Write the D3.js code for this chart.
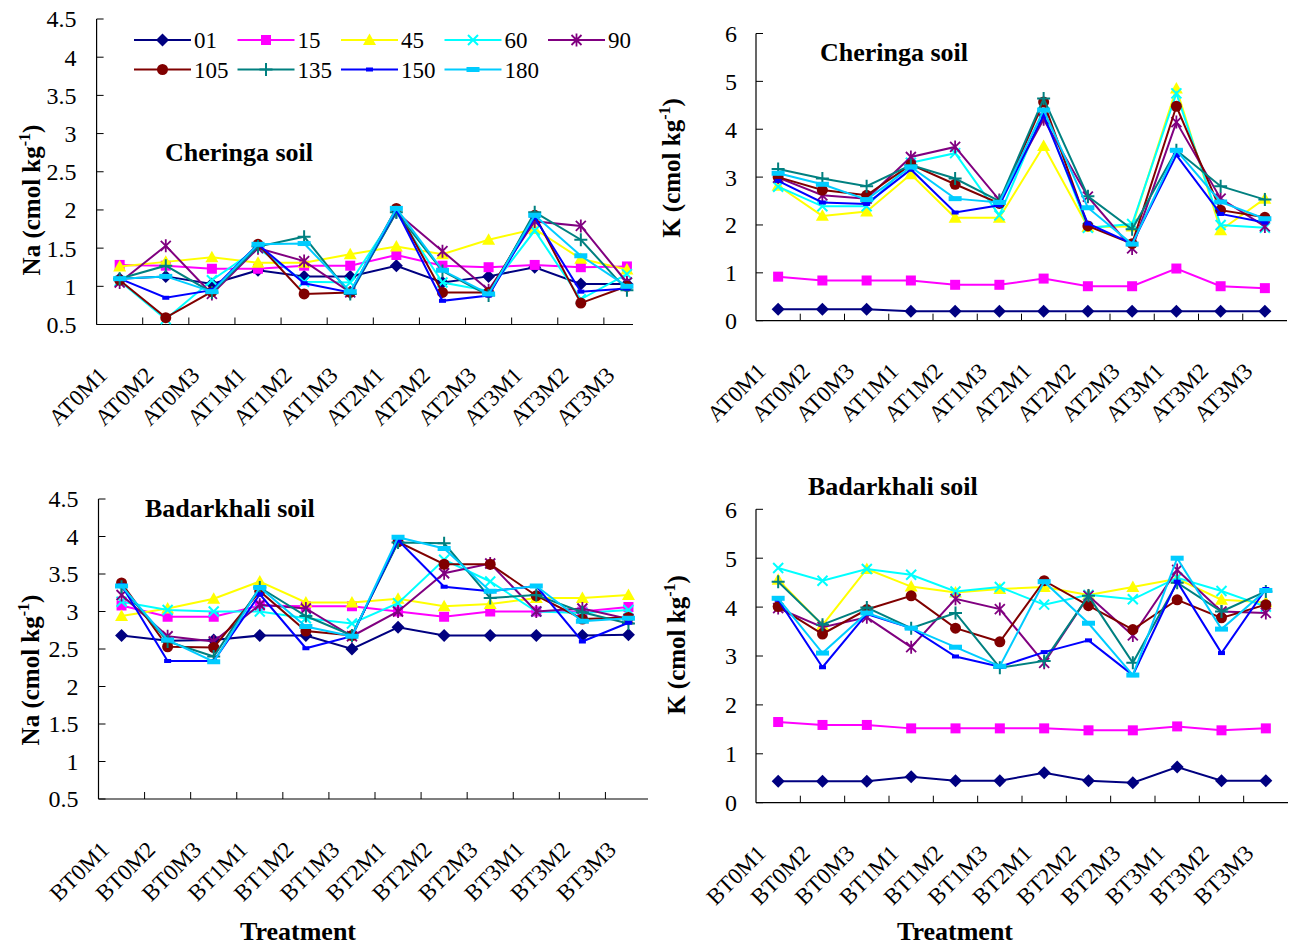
<!DOCTYPE html>
<html>
<head>
<meta charset="utf-8">
<script src="https://cdn.jsdelivr.net/npm/d3@7"></script>
<style>
  html, body { margin: 0; padding: 0; background: #fff; }
  svg { display: block; }
  text { font-family: "Liberation Serif", "Times New Roman", serif; fill: #000; }
</style>
</head>
<body>
<svg id="chart" width="1297" height="947"></svg>
<script>
// Treatment categories for the two soils
const cheringaTreatments = ["AT0M1","AT0M2","AT0M3","AT1M1","AT1M2","AT1M3","AT2M1","AT2M2","AT2M3","AT3M1","AT3M2","AT3M3"];
const badarkhaliTreatments = ["BT0M1","BT0M2","BT0M3","BT1M1","BT1M2","BT1M3","BT2M1","BT2M2","BT2M3","BT3M1","BT3M2","BT3M3"];

// Incubation days (one line per day)
const dayLabels = ["01","15","45","60","90","105","135","150","180"];

// Axis tick values
const naTicks = [0.5, 1, 1.5, 2, 2.5, 3, 3.5, 4, 4.5];
const kTicks = [0, 1, 2, 3, 4, 5, 6];

// Na (cmol kg-1), Cheringa soil — rows follow dayLabels
const naCheringa = [
  [1.10, 1.13, 1.03, 1.21, 1.13, 1.13, 1.27, 1.05, 1.13, 1.25, 1.03, 1.03],
  [1.28, 1.27, 1.23, 1.23, 1.27, 1.27, 1.41, 1.27, 1.25, 1.28, 1.25, 1.26],
  [1.26, 1.32, 1.38, 1.31, 1.31, 1.42, 1.52, 1.42, 1.61, 1.75, 1.36, 1.22],
  [1.07, 0.57, 1.08, 1.50, 1.06, 1.05, 1.97, 1.05, 0.94, 1.73, 0.83, 1.16],
  [1.05, 1.53, 0.90, 1.50, 1.33, 0.92, 1.97, 1.46, 0.95, 1.85, 1.79, 1.05],
  [1.08, 0.59, 0.93, 1.55, 0.90, 0.92, 2.02, 0.92, 0.92, 1.93, 0.78, 1.00],
  [1.10, 1.27, 0.92, 1.52, 1.65, 0.90, 1.97, 1.20, 0.88, 1.97, 1.61, 0.95],
  [1.10, 0.85, 0.95, 1.55, 1.04, 0.92, 2.00, 0.81, 0.88, 1.90, 0.93, 0.97],
  [1.10, 1.13, 0.93, 1.55, 1.56, 0.93, 2.02, 1.21, 0.90, 1.93, 1.40, 1.00]
];

// K (cmol kg-1), Cheringa soil
const kCheringa = [
  [0.24, 0.24, 0.24, 0.20, 0.20, 0.20, 0.20, 0.20, 0.20, 0.20, 0.20, 0.20],
  [0.92, 0.84, 0.84, 0.84, 0.75, 0.75, 0.88, 0.72, 0.72, 1.09, 0.72, 0.68],
  [2.82, 2.19, 2.28, 3.06, 2.15, 2.15, 3.65, 1.96, 1.97, 4.85, 1.89, 2.55],
  [2.80, 2.39, 2.39, 3.30, 3.50, 2.20, 4.36, 1.94, 2.02, 4.75, 2.00, 1.94],
  [2.99, 2.62, 2.55, 3.42, 3.63, 2.52, 4.21, 2.59, 1.51, 4.15, 2.55, 1.97],
  [3.00, 2.73, 2.62, 3.26, 2.85, 2.45, 4.57, 1.98, 1.61, 4.48, 2.31, 2.16],
  [3.17, 2.97, 2.81, 3.25, 2.97, 2.50, 4.64, 2.60, 1.91, 3.56, 2.81, 2.53],
  [2.92, 2.47, 2.44, 3.16, 2.26, 2.41, 4.29, 2.03, 1.61, 3.46, 2.23, 2.05],
  [3.08, 2.85, 2.53, 3.21, 2.55, 2.47, 4.40, 2.36, 1.60, 3.56, 2.48, 2.13]
];

// Na (cmol kg-1), Badarkhali soil
const naBadarkhali = [
  [2.68, 2.61, 2.62, 2.68, 2.68, 2.50, 2.79, 2.68, 2.68, 2.68, 2.68, 2.69],
  [3.08, 2.93, 2.93, 3.08, 3.07, 3.07, 3.00, 2.93, 3.00, 3.00, 3.00, 3.06],
  [2.94, 3.04, 3.17, 3.40, 3.12, 3.12, 3.17, 3.07, 3.10, 3.18, 3.18, 3.22],
  [3.13, 3.02, 3.00, 3.00, 2.91, 2.84, 3.11, 3.69, 3.40, 3.00, 2.98, 3.02],
  [3.22, 2.67, 2.60, 3.09, 3.04, 2.67, 3.00, 3.51, 3.64, 3.00, 3.04, 2.90],
  [3.38, 2.53, 2.52, 3.27, 2.74, 2.68, 3.93, 3.63, 3.63, 3.21, 2.90, 2.92],
  [3.33, 2.60, 2.40, 3.32, 2.94, 2.68, 3.92, 3.91, 3.18, 3.22, 2.99, 2.84],
  [3.35, 2.34, 2.34, 3.23, 2.51, 2.67, 3.95, 3.33, 3.27, 3.34, 2.60, 2.85],
  [3.34, 2.62, 2.33, 3.32, 2.80, 2.67, 3.99, 3.84, 3.27, 3.34, 2.87, 2.91]
];

// K (cmol kg-1), Badarkhali soil
const kBadarkhali = [
  [0.44, 0.44, 0.44, 0.53, 0.45, 0.45, 0.61, 0.45, 0.41, 0.73, 0.45, 0.45],
  [1.65, 1.59, 1.59, 1.52, 1.52, 1.52, 1.52, 1.48, 1.48, 1.56, 1.48, 1.52],
  [4.56, 3.63, 4.78, 4.42, 4.30, 4.37, 4.41, 4.25, 4.41, 4.58, 4.15, 4.10],
  [4.80, 4.54, 4.78, 4.66, 4.32, 4.41, 4.05, 4.25, 4.16, 4.60, 4.33, 4.01],
  [3.98, 3.59, 3.79, 3.18, 4.17, 3.96, 2.86, 4.23, 3.42, 4.76, 3.91, 3.88],
  [4.01, 3.45, 3.95, 4.23, 3.57, 3.29, 4.54, 4.03, 3.54, 4.15, 3.78, 4.05],
  [4.52, 3.64, 3.99, 3.57, 3.88, 2.76, 2.90, 4.23, 2.86, 4.50, 3.91, 4.32],
  [4.15, 2.77, 3.86, 3.57, 2.99, 2.78, 3.08, 3.32, 2.61, 4.52, 3.06, 4.37],
  [4.18, 3.06, 3.88, 3.57, 3.18, 2.79, 4.52, 3.67, 2.61, 5.00, 3.55, 4.34]
];

// Line colours and marker shapes, one per day
const dayColors = ["#000080", "#FF00FF", "#FFFF00", "#00FFFF", "#800080", "#800000", "#008080", "#0000FF", "#00CCFF"];
const dayMarkers = ["diamond", "square", "triangle", "x", "star", "circle", "plus", "shortDash", "longDash"];

const svg = d3.select("#chart");

function drawMarker(g, shape, color) {
  switch (shape) {
    case "diamond":
      g.append("path").attr("d", "M0,-6.5L6.5,0L0,6.5L-6.5,0Z").attr("fill", color);
      break;
    case "square":
      g.append("rect").attr("x", -5).attr("y", -5).attr("width", 10).attr("height", 10).attr("fill", color);
      break;
    case "triangle":
      g.append("path").attr("d", "M0,-6.5L6.5,5L-6.5,5Z").attr("fill", color);
      break;
    case "x":
      g.append("path").attr("d", "M-5,-5L5,5M-5,5L5,-5").attr("stroke", color).attr("stroke-width", 2).attr("fill", "none");
      break;
    case "star":
      g.append("path").attr("d", "M-5,-5L5,5M-5,5L5,-5M0,-6.5L0,6.5").attr("stroke", color).attr("stroke-width", 1.8).attr("fill", "none");
      break;
    case "circle":
      g.append("circle").attr("r", 5.5).attr("fill", color);
      break;
    case "plus":
      g.append("path").attr("d", "M-6.5,0L6.5,0M0,-6.5L0,6.5").attr("stroke", color).attr("stroke-width", 2).attr("fill", "none");
      break;
    case "shortDash":
      g.append("rect").attr("x", -3.5).attr("y", -2).attr("width", 7).attr("height", 4).attr("fill", color);
      break;
    case "longDash":
      g.append("rect").attr("x", -6.5).attr("y", -2.5).attr("width", 13).attr("height", 5).attr("fill", color);
      break;
  }
}

function drawPanel(cfg) {
  const x = d3.scaleBand().domain(cfg.categories).range([cfg.x0, cfg.x1]);
  const y = d3.scaleLinear().domain(cfg.yDomain).range([cfg.yBottom, cfg.yTop]);
  const g = svg.append("g");

  // y axis: line with inward ticks
  g.append("line").attr("x1", cfg.x0).attr("x2", cfg.x0)
    .attr("y1", y(cfg.yDomain[0])).attr("y2", y(cfg.yDomain[1]))
    .attr("stroke", "#000").attr("stroke-width", 1.2);
  g.selectAll(".ytick").data(cfg.ticks).join("line")
    .attr("x1", cfg.x0).attr("x2", cfg.x0 + 7)
    .attr("y1", d => y(d)).attr("y2", d => y(d))
    .attr("stroke", "#000").attr("stroke-width", 1);
  g.selectAll(".ylab").data(cfg.ticks).join("text")
    .attr("x", cfg.x0 - cfg.tickGap).attr("y", d => y(d))
    .attr("dy", "0.35em").attr("text-anchor", "end")
    .attr("font-size", cfg.tickFont)
    .text(d => d3.format("")(d));

  // x axis: line with inward ticks at category boundaries
  const axisY = y(cfg.yDomain[0]);
  g.append("line").attr("x1", cfg.x0).attr("x2", cfg.axisEnd)
    .attr("y1", axisY).attr("y2", axisY)
    .attr("stroke", "#000").attr("stroke-width", 1.2);
  g.selectAll(".xtick").data(cfg.categories.slice(1)).join("line")
    .attr("x1", d => x(d)).attr("x2", d => x(d))
    .attr("y1", axisY).attr("y2", axisY - 7)
    .attr("stroke", "#000").attr("stroke-width", 1);
  g.selectAll(".xlab").data(cfg.categories).join("text")
    .attr("transform", d => `translate(${x(d) + x.bandwidth() / 2 - 11},${axisY + 52}) rotate(-45)`)
    .attr("text-anchor", "end")
    .attr("font-size", cfg.catFont)
    .text(d => d);

  // series lines and markers
  cfg.values.forEach((row, i) => {
    const pts = row.map((v, j) => [x(cfg.categories[j]) + x.bandwidth() / 2, y(v)]);
    g.append("path").attr("d", d3.line()(pts))
      .attr("fill", "none").attr("stroke", dayColors[i]).attr("stroke-width", 2);
    pts.forEach(p => {
      const m = g.append("g").attr("transform", `translate(${p[0]},${p[1]})`);
      drawMarker(m, dayMarkers[i], dayColors[i]);
    });
  });

  // panel title
  g.append("text").attr("x", cfg.titleX).attr("y", cfg.titleY)
    .attr("font-size", 26).attr("font-weight", "bold")
    .text(cfg.title);

  // y axis title with superscript
  const yt = g.append("text")
    .attr("transform", `translate(${cfg.yTitleX},${cfg.yTitleY}) rotate(-90)`)
    .attr("text-anchor", "middle").attr("font-size", 25).attr("font-weight", "bold");
  yt.append("tspan").text(cfg.element + " (cmol kg");
  yt.append("tspan").attr("font-size", 16).attr("dy", -10).text("-1");
  yt.append("tspan").attr("dy", 10).text(")");

  if (cfg.xTitle) {
    g.append("text").attr("x", cfg.xTitleX).attr("y", 940)
      .attr("text-anchor", "middle").attr("font-size", 26).attr("font-weight", "bold")
      .text(cfg.xTitle);
  }
}

drawPanel({
  categories: cheringaTreatments, values: naCheringa, element: "Na",
  x0: 96.6, x1: 650, axisEnd: 633, yDomain: [0.5, 4.5], yBottom: 324.5, yTop: 19,
  ticks: naTicks, tickFont: 24, tickGap: 20, catFont: 23,
  title: "Cheringa soil", titleX: 165, titleY: 161, yTitleX: 40, yTitleY: 200
});
drawPanel({
  categories: cheringaTreatments, values: kCheringa, element: "K",
  x0: 756, x1: 1287, axisEnd: 1287, yDomain: [0, 6], yBottom: 320.7, yTop: 33.5,
  ticks: kTicks, tickFont: 24, tickGap: 19, catFont: 23,
  title: "Cheringa soil", titleX: 820, titleY: 61, yTitleX: 680, yTitleY: 168
});
drawPanel({
  categories: badarkhaliTreatments, values: naBadarkhali, element: "Na",
  x0: 98.5, x1: 651.5, axisEnd: 648, yDomain: [0.5, 4.5], yBottom: 799, yTop: 499,
  ticks: naTicks, tickFont: 24, tickGap: 20, catFont: 23,
  title: "Badarkhali soil", titleX: 145, titleY: 517, yTitleX: 39, yTitleY: 670,
  xTitle: "Treatment", xTitleX: 298
});
drawPanel({
  categories: badarkhaliTreatments, values: kBadarkhali, element: "K",
  x0: 756, x1: 1288, axisEnd: 1288, yDomain: [0, 6], yBottom: 802.7, yTop: 509.3,
  ticks: kTicks, tickFont: 24, tickGap: 19, catFont: 23,
  title: "Badarkhali soil", titleX: 808, titleY: 495, yTitleX: 685, yTitleY: 645,
  xTitle: "Treatment", xTitleX: 955
});

// Legend (inside the top-left panel)
const legend = svg.append("g");
const legendCols = 5;
dayLabels.forEach((name, i) => {
  const col = i % legendCols, row = Math.floor(i / legendCols);
  const lx = 134 + col * 103.5, ly = 40 + row * 29.5;
  const item = legend.append("g").attr("transform", `translate(${lx},${ly})`);
  item.append("line").attr("x1", 0).attr("x2", 57).attr("y1", 0).attr("y2", 0)
    .attr("stroke", dayColors[i]).attr("stroke-width", 2);
  const m = item.append("g").attr("transform", "translate(28.5,0)");
  drawMarker(m, dayMarkers[i], dayColors[i]);
  item.append("text").attr("x", 60).attr("y", 0).attr("dy", "0.35em")
    .attr("font-size", 23).text(name);
});
</script>
</body>
</html>
